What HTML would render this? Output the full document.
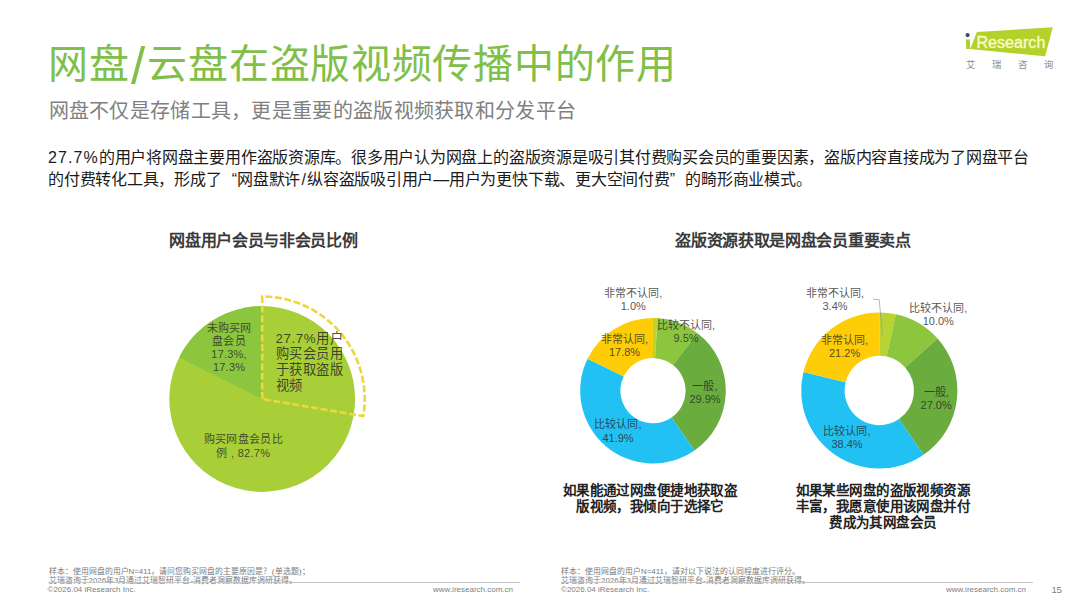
<!DOCTYPE html>
<html lang="zh-CN">
<head>
<meta charset="utf-8">
<title>网盘/云盘在盗版视频传播中的作用</title>
<style>
html,body{margin:0;padding:0;}
body{width:1080px;height:608px;position:relative;overflow:hidden;background:#fff;font-family:"Liberation Sans",sans-serif;color:#000;}
.abs{position:absolute;white-space:nowrap;}
#title{left:48px;top:36px;font-size:40px;line-height:56px;color:#80c04a;letter-spacing:0.72px;}
#title .sl{font-size:51px;line-height:10px;padding:0 1.5px;position:relative;top:6px;}
#sub{left:48.6px;top:95.6px;font-size:20px;line-height:30px;color:#808080;letter-spacing:0.29px;}
#para{left:48px;top:147px;font-size:16px;line-height:22px;color:#1a1a1a;letter-spacing:-0.235px;}
#para .n{letter-spacing:1.1px;}
#para .ql{display:inline-block;width:15.75px;text-align:right;letter-spacing:0;}
#para .qr{display:inline-block;width:15.75px;text-align:left;letter-spacing:0;}
#para .sl{padding:0 1.3px;}
.ctitle{font-size:16px;font-weight:bold;color:#3a3a3a;line-height:20px;text-align:center;letter-spacing:-0.3px;}
.lbl{font-size:11px;line-height:13.3px;color:rgba(40,40,40,0.8);text-align:center;}
.lblp{font-size:11px;line-height:13.15px;color:rgba(40,40,40,0.8);text-align:center;letter-spacing:0.2px;}
.cap{font-size:13.5px;line-height:16.1px;font-weight:bold;color:#222;text-align:center;letter-spacing:0.42px;}
.fn{font-size:7.9px;line-height:9.5px;color:#7a7a7a;letter-spacing:0px;}
.ft{font-size:8px;line-height:10px;color:#808080;}
</style>
</head>
<body>
<div id="title" class="abs">网盘<span class="sl">/</span>云盘在盗版视频传播中的作用</div>
<div id="sub" class="abs">网盘不仅是存储工具，更是重要的盗版视频获取和分发平台</div>
<div id="para" class="abs"><span class="n">27.7%</span>的用户将网盘主要用作盗版资源库。很多用户认为网盘上的盗版资源是吸引其付费购买会员的重要因素，盗版内容直接成为了网盘平台<br>的付费转化工具，形成了<span class="ql">“</span>网盘默许<span class="sl">/</span>纵容盗版吸引用户—用户为更快下载、更大空间付费<span class="qr">”</span>的畸形商业模式。</div>

<!-- logo -->
<svg class="abs" style="left:955px;top:20px" width="110" height="55" viewBox="955 20 110 55">
  <polygon points="976.9,32 1052.8,27.3 1045.1,56.2 970.3,49.1" fill="#b4d12a"/>
  <polygon points="965.8,39.4 969.9,39.4 970.2,49.1 966.2,49.1" fill="#b4d12a"/>
  <circle cx="967.6" cy="35.1" r="2.1" fill="#34506a"/>
  <text x="976.4" y="48" font-family="Liberation Sans, sans-serif" font-size="15.6" fill="#f7fcc8" stroke="#f7fcc8" stroke-width="0.35" textLength="69" lengthAdjust="spacingAndGlyphs">Research</text>
</svg>
<div class="abs" style="left:965.5px;top:59.2px;font-size:9.4px;line-height:11px;color:#8a8a8a;letter-spacing:17.3px;">艾瑞咨询</div>

<!-- chart titles -->
<div class="abs ctitle" style="left:113.4px;width:300px;top:231px;">网盘用户会员与非会员比例</div>
<div class="abs ctitle" style="left:642.9px;width:300px;top:231px;">盗版资源获取是网盘会员重要卖点</div>

<!-- charts -->
<svg class="abs" style="left:0;top:270px" width="1080" height="230" viewBox="0 270 1080 230">
  <circle cx="262.2" cy="399" r="92.9" fill="#a9cf38"/>
  <path d="M262.2,399 L179.13,357.40 A92.9,92.9 0 0 1 262.20,306.10 Z" fill="#8cc63f"/>
  <path d="M262.2,399 L262.20,296.50 A102.5,102.5 0 0 1 363.26,416.09 Z" fill="none" stroke="#ecd83c" stroke-width="2.6" stroke-dasharray="7 2.6"/>
  <path d="M653.00,317.90 A72.8,72.8 0 0 1 657.57,318.04 L655.04,358.16 A32.6,32.6 0 0 0 653.00,358.10 Z" fill="#b9d432"/>
  <path d="M657.57,318.04 A72.8,72.8 0 0 1 697.58,333.15 L672.96,364.93 A32.6,32.6 0 0 0 655.04,358.16 Z" fill="#8cc63f"/>
  <path d="M697.58,333.15 A72.8,72.8 0 0 1 694.45,450.55 L671.56,417.50 A32.6,32.6 0 0 0 672.96,364.93 Z" fill="#6aad3e"/>
  <path d="M694.45,450.55 A72.8,72.8 0 0 1 587.56,358.80 L623.70,376.42 A32.6,32.6 0 0 0 671.56,417.50 Z" fill="#22c1f3"/>
  <path d="M587.56,358.80 A72.8,72.8 0 0 1 653.00,317.90 L653.00,358.10 A32.6,32.6 0 0 0 623.70,376.42 Z" fill="#ffcc08"/>
  <path d="M879.30,312.40 A78.1,78.1 0 0 1 895.86,314.18 L886.66,356.59 A34.7,34.7 0 0 0 879.30,355.80 Z" fill="#b9d432"/>
  <path d="M895.86,314.18 A78.1,78.1 0 0 1 937.56,338.48 L905.18,367.39 A34.7,34.7 0 0 0 886.66,356.59 Z" fill="#8cc63f"/>
  <path d="M937.56,338.48 A78.1,78.1 0 0 1 923.60,454.82 L898.98,419.08 A34.7,34.7 0 0 0 905.18,367.39 Z" fill="#6aad3e"/>
  <path d="M923.60,454.82 A78.1,78.1 0 0 1 803.42,372.03 L845.58,382.29 A34.7,34.7 0 0 0 898.98,419.08 Z" fill="#22c1f3"/>
  <path d="M803.42,372.03 A78.1,78.1 0 0 1 879.30,312.40 L879.30,355.80 A34.7,34.7 0 0 0 845.58,382.29 Z" fill="#ffcc08"/>
  <polyline points="873,299.2 879.2,299.7 882.5,335" fill="none" stroke="#9a9a9a" stroke-width="0.7"/>
</svg>

<!-- pie labels -->
<div class="abs lblp" style="left:169.1px;width:120px;top:321.7px;">未购买网<br>盘会员<br>17.3%,<br>17.3%</div>
<div class="abs lblp" style="left:183.3px;width:120px;top:433px;line-height:13.6px;letter-spacing:0.3px;">购买网盘会员比<br>例 , 82.7%</div>
<div class="abs" style="left:275.5px;top:330.5px;font-size:13.3px;line-height:15.8px;color:rgba(35,35,35,0.82);letter-spacing:0.6px;">27.7%用户<br>购买会员用<br>于获取盗版<br>视频</div>

<!-- donut 1 labels -->
<div class="abs lbl" style="left:573.3px;width:120px;top:287.1px;">非常不认同,<br>1.0%</div>
<div class="abs lbl" style="left:626.0px;width:120px;top:319.1px;">比较不认同,<br>9.5%</div>
<div class="abs lbl" style="left:564.5px;width:120px;top:332.9px;">非常认同,<br>17.8%</div>
<div class="abs lbl" style="left:645.0px;width:120px;top:380.2px;">一般,<br>29.9%</div>
<div class="abs lbl" style="left:558.0px;width:120px;top:418.4px;">比较认同,<br>41.9%</div>

<!-- donut 2 labels -->
<div class="abs lbl" style="left:775.0px;width:120px;top:286.7px;">非常不认同,<br>3.4%</div>
<div class="abs lbl" style="left:878.3px;width:120px;top:301.7px;">比较不认同,<br>10.0%</div>
<div class="abs lbl" style="left:784.6px;width:120px;top:333.5px;">非常认同,<br>21.2%</div>
<div class="abs lbl" style="left:876.2px;width:120px;top:385.9px;">一般,<br>27.0%</div>
<div class="abs lbl" style="left:787.0px;width:120px;top:425.1px;">比较认同,<br>38.4%</div>

<!-- captions -->
<div class="abs cap" style="left:550px;width:200px;top:482.5px;">如果能通过网盘便捷地获取盗<br>版视频，我倾向于选择它</div>
<div class="abs cap" style="left:782.9px;width:200px;top:482.5px;">如果某些网盘的盗版视频资源<br>丰富，我愿意使用该网盘并付<br>费成为其网盘会员</div>

<!-- footnotes -->
<div class="abs fn" style="left:48.5px;top:566.8px;">样本：使用网盘的用户N=411，请问您购买网盘的主要原因是？<span style="padding:0 0.4px">(</span>单选题<span style="padding:0 0.2px">)</span>；<br>艾瑞咨询于2026年3月通过艾瑞智研平台-消费者洞察数据库调研获得。</div>
<div class="abs fn" style="left:561px;top:566.8px;">样本：使用网盘的用户N=411，请对以下说法的认同程度进行评分。<br>艾瑞咨询于2026年3月通过艾瑞智研平台-消费者洞察数据库调研获得。</div>
<div class="abs" style="left:48px;top:582px;width:472px;height:1.2px;background:#c4c4c4;"></div>
<div class="abs" style="left:561px;top:582px;width:471.5px;height:1.2px;background:#c4c4c4;"></div>
<div class="abs ft" style="left:47.5px;top:585px;">©2026.04 iResearch Inc.</div>
<div class="abs ft" style="left:561px;top:585px;">©2026.04 iResearch Inc.</div>
<div class="abs ft" style="left:433px;top:585px;">www.iresearch.com.cn</div>
<div class="abs ft" style="left:946px;top:585px;">www.iresearch.com.cn</div>
<div class="abs" style="left:1051.5px;top:583.5px;font-size:9.7px;line-height:12px;color:#808080;letter-spacing:-0.4px;">15</div>
</body>
</html>
